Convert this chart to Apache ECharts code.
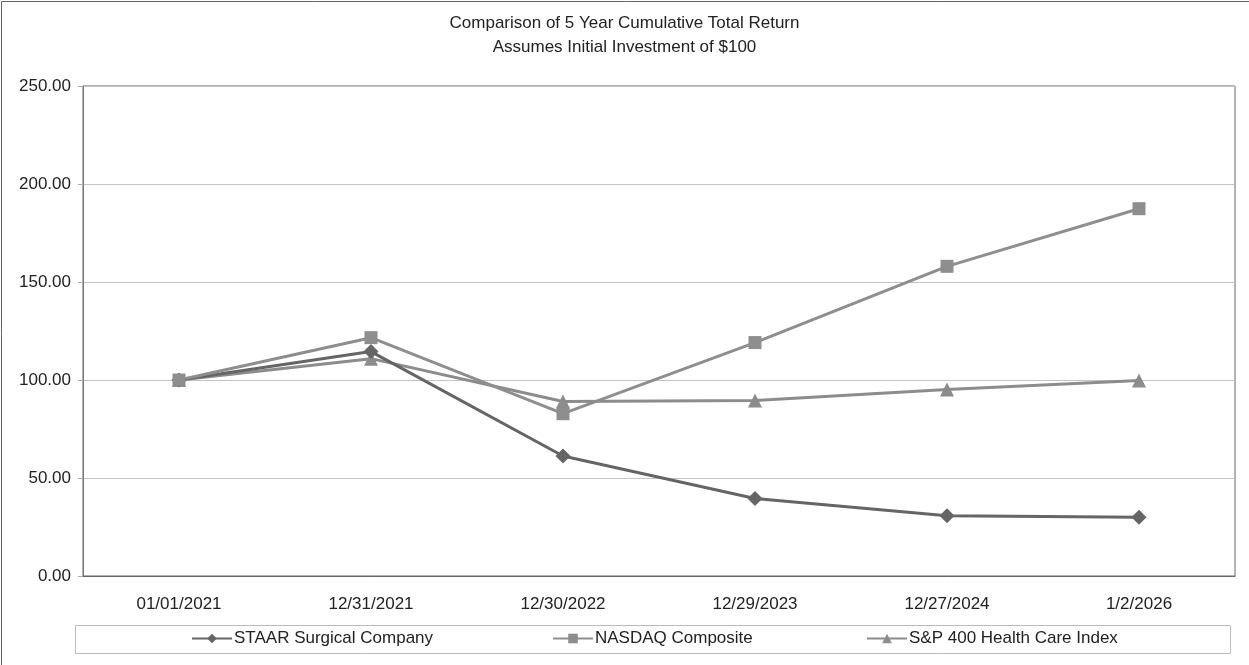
<!DOCTYPE html>
<html>
<head>
<meta charset="utf-8">
<script src="https://cdn.jsdelivr.net/npm/echarts@6/dist/echarts.min.js"></script>
<style>
  html, body { margin: 0; padding: 0; background: #fff; }
  #chart { width: 1249px; height: 665px; }
</style>
</head>
<body>
<div id="chart"></div>
<script>
// 数据
const dates = ['01/01/2021', '12/31/2021', '12/30/2022', '12/29/2023', '12/27/2024', '1/2/2026'];
const staar = [100, 114.5, 61.2, 39.5, 30.7, 30.0];
const nasdaq = [100, 121.6, 82.8, 119.1, 158.0, 187.4];
const sp400hc = [100, 110.9, 89.0, 89.6, 95.1, 99.7];

const chart = echarts.init(document.getElementById('chart'));
const font = 'Liberation Sans, Arial, sans-serif';

function makeSeries(name, data, symbol, color, size) {
    return {
        name: name,
        type: 'line',
        data: data,
        symbol: symbol,
        symbolSize: size,
        itemStyle: { color: color },
        lineStyle: { color: color, width: 3 },
        animation: false
    };
}

function makeLegend(name, left) {
    return {
        data: [name],
        left: left,
        top: 630,
        itemWidth: 40,
        itemHeight: 12,
        itemGap: 0,
        padding: 0,
        textStyle: { fontFamily: font, fontSize: 17, color: '#222', padding: [0, 0, 0, -3] }
    };
}

const option = {
    backgroundColor: '#fff',
    title: {
        text: 'Comparison of 5 Year Cumulative Total Return\nAssumes Initial Investment of $100',
        left: 'center',
        top: 6,
        textStyle: { fontFamily: font, fontSize: 17, fontWeight: 'normal', color: '#222', lineHeight: 24 }
    },
    graphic: [
        // 外框（上、左）
        { type: 'polyline', shape: { points: [[1.5, 665], [1.5, 1.5], [1249, 1.5]] },
          style: { stroke: '#666', lineWidth: 1, fill: null } },
        // 图例框
        { type: 'rect', shape: { x: 75.5, y: 625.5, width: 1155, height: 28 },
          style: { stroke: '#bbb', lineWidth: 1, fill: null } }
    ],
    legend: [
        makeLegend('STAAR Surgical Company', 191),
        makeLegend('NASDAQ Composite', 552),
        makeLegend('S&P 400 Health Care Index', 866)
    ],
    grid: {
        left: 83, right: 14, top: 86, bottom: 89,
        show: true, borderColor: '#666', borderWidth: 1, backgroundColor: 'transparent'
    },
    xAxis: {
        type: 'category',
        data: dates,
        boundaryGap: true,
        axisLine: { lineStyle: { color: '#666' } },
        axisTick: { alignWithLabel: true, inside: true, length: 4, lineStyle: { color: '#aaa' } },
        axisLabel: { fontFamily: font, fontSize: 17, color: '#222', margin: 20 }
    },
    yAxis: {
        type: 'value',
        min: 0, max: 250, interval: 50,
        axisLine: { show: true, lineStyle: { color: '#777' } },
        axisTick: { show: true, length: 5, lineStyle: { color: '#aaa' } },
        axisLabel: {
            fontFamily: font, fontSize: 17, color: '#222', margin: 12,
            formatter: function (v) { return v.toFixed(2); }
        },
        splitLine: { lineStyle: { color: '#c4c4c4' } }
    },
    series: [
        makeSeries('S&P 400 Health Care Index', sp400hc, 'triangle', '#8c8c8c', 14),
        makeSeries('STAAR Surgical Company', staar, 'diamond', '#656565', 15),
        makeSeries('NASDAQ Composite', nasdaq, 'rect', '#8e8e8e', 13)
    ]
};

chart.setOption(option);
</script>
</body>
</html>
